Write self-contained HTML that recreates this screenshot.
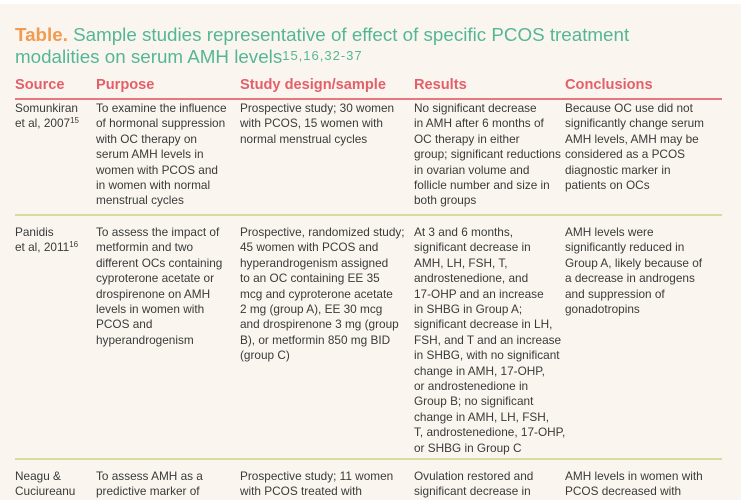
<!DOCTYPE html>
<html>
<head>
<meta charset="utf-8">
<style>
  html,body{margin:0;padding:0;}
  body{width:741px;height:486px;overflow:hidden;background:#faf6ef;position:relative;font-family:"Liberation Sans",Arial,sans-serif;}
  .topstrip{position:absolute;left:0;top:0;width:741px;height:4px;background:#ffffff;}
  .title{position:absolute;left:15px;top:24px;font-size:18.8px;line-height:21.5px;color:#55b697;white-space:nowrap;}
  .title b{color:#f29a4d;font-weight:bold;}
  .title .sup{font-size:13px;letter-spacing:1px;vertical-align:3px;line-height:0;}
  .hdr{position:absolute;top:76px;font-size:14.6px;line-height:18px;font-weight:bold;color:#e3606a;white-space:nowrap;}
  .rule{position:absolute;left:15px;width:707px;height:1.5px;}
  .red{background:#e8787e;}
  .grn{background:#d7dba0;}
  .c{position:absolute;font-size:11.8px;line-height:15.4px;color:#3a3a3a;white-space:nowrap;}
  .c sup{font-size:8px;vertical-align:4px;line-height:0;}
</style>
</head>
<body>
<div class="topstrip"></div>

<div class="title"><b>Table.</b> Sample studies representative of effect of specific PCOS treatment<br>modalities on serum AMH levels<span class="sup">15,16,32-37</span></div>

<div class="hdr" style="left:15px;">Source</div>
<div class="hdr" style="left:96px;">Purpose</div>
<div class="hdr" style="left:240px;">Study design/sample</div>
<div class="hdr" style="left:414px;">Results</div>
<div class="hdr" style="left:565px;">Conclusions</div>

<div class="rule red" style="top:98px;"></div>

<!-- Row 1 -->
<div class="c" style="left:15px;top:101px;">Somunkiran<br>et al, 2007<sup>15</sup></div>
<div class="c" style="left:96px;top:101px;">To examine the influence<br>of hormonal suppression<br>with OC therapy on<br>serum AMH levels in<br>women with PCOS and<br>in women with normal<br>menstrual cycles</div>
<div class="c" style="left:240px;top:101px;">Prospective study; 30 women<br>with PCOS, 15 women with<br>normal menstrual cycles</div>
<div class="c" style="left:414px;top:101px;">No significant decrease<br>in AMH after 6 months of<br>OC therapy in either<br>group; significant reductions<br>in ovarian volume and<br>follicle number and size in<br>both groups</div>
<div class="c" style="left:565px;top:101px;">Because OC use did not<br>significantly change serum<br>AMH levels, AMH may be<br>considered as a PCOS<br>diagnostic marker in<br>patients on OCs</div>

<div class="rule grn" style="top:214px;"></div>

<!-- Row 2 -->
<div class="c" style="left:15px;top:225px;">Panidis<br>et al, 2011<sup>16</sup></div>
<div class="c" style="left:96px;top:225px;">To assess the impact of<br>metformin and two<br>different OCs containing<br>cyproterone acetate or<br>drospirenone on AMH<br>levels in women with<br>PCOS and<br>hyperandrogenism</div>
<div class="c" style="left:240px;top:225px;">Prospective, randomized study;<br>45 women with PCOS and<br>hyperandrogenism assigned<br>to an OC containing EE 35<br>mcg and cyproterone acetate<br>2 mg (group A), EE 30 mcg<br>and drospirenone 3 mg (group<br>B), or metformin 850 mg BID<br>(group C)</div>
<div class="c" style="left:414px;top:225px;">At 3 and 6 months,<br>significant decrease in<br>AMH, LH, FSH, T,<br>androstenedione, and<br>17-OHP and an increase<br>in SHBG in Group A;<br>significant decrease in LH,<br>FSH, and T and an increase<br>in SHBG, with no significant<br>change in AMH, 17-OHP,<br>or androstenedione in<br>Group B; no significant<br>change in AMH, LH, FSH,<br>T, androstenedione, 17-OHP,<br>or SHBG in Group C</div>
<div class="c" style="left:565px;top:225px;">AMH levels were<br>significantly reduced in<br>Group A, likely because of<br>a decrease in androgens<br>and suppression of<br>gonadotropins</div>

<div class="rule grn" style="top:458px;"></div>

<!-- Row 3 (partially visible) -->
<div class="c" style="left:15px;top:469px;">Neagu &amp;<br>Cuciureanu</div>
<div class="c" style="left:96px;top:469px;">To assess AMH as a<br>predictive marker of</div>
<div class="c" style="left:240px;top:469px;">Prospective study; 11 women<br>with PCOS treated with</div>
<div class="c" style="left:414px;top:469px;">Ovulation restored and<br>significant decrease in</div>
<div class="c" style="left:565px;top:469px;">AMH levels in women with<br>PCOS decreased with</div>
</body>
</html>
